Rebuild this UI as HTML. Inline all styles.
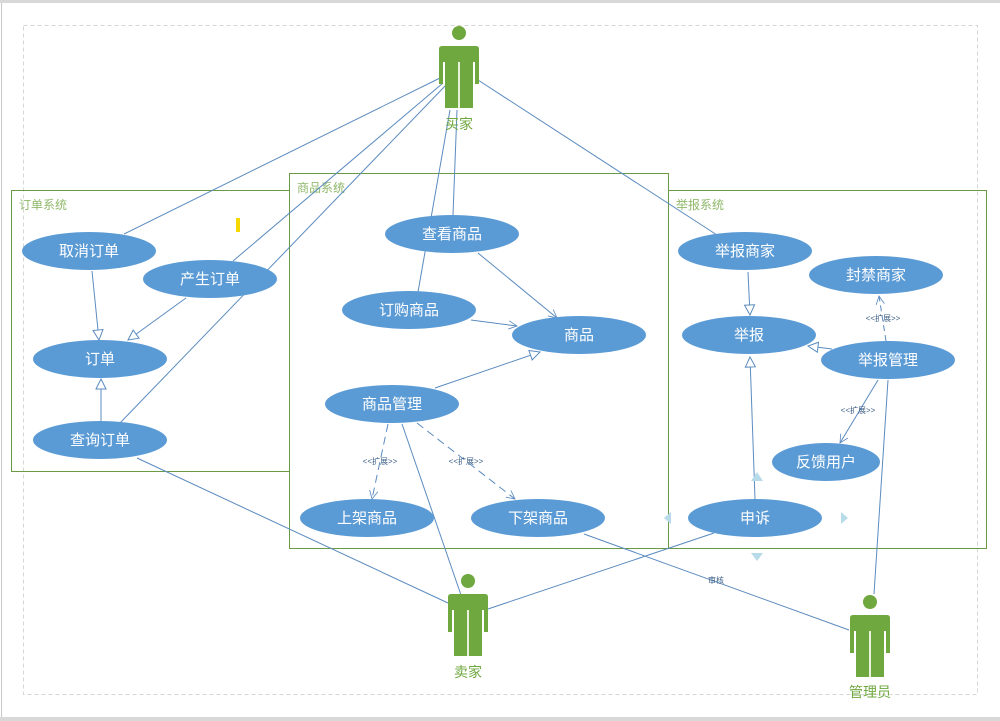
<!DOCTYPE html>
<html><head><meta charset="utf-8"><style>
html,body{margin:0;padding:0;background:#fff}
svg{display:block}
text{font-family:"Liberation Sans","Noto Sans CJK SC",sans-serif}
</style></head><body>
<svg width="1000" height="721" viewBox="0 0 1000 721" xmlns="http://www.w3.org/2000/svg">
<defs>
<marker id="tri" viewBox="0 0 12 12" refX="11" refY="6" markerWidth="12" markerHeight="12" markerUnits="userSpaceOnUse" orient="auto"><path d="M1,1 L11,6 L1,11 Z" fill="#fff" stroke="#5b8bbf" stroke-width="1"/></marker>
<marker id="open" viewBox="0 0 12 12" refX="11" refY="6" markerWidth="10" markerHeight="10" markerUnits="userSpaceOnUse" orient="auto"><path d="M1,1 L11,6 L1,11" fill="none" stroke="#5b8bbf" stroke-width="1"/></marker>
<g id="actor" fill="#6fa83f">
<circle cx="0" cy="-13" r="7"/>
<path d="M-17,0 H17 Q20,0 20,3 V38 H16 V16 H14 V62 H1 V16 H-1 V62 H-14 V16 H-16 V38 H-20 V3 Q-20,0 -17,0 Z"/>
<rect x="-0.5" y="16" width="1" height="46" fill="#cfe3bd"/>
</g>
</defs>
<rect x="0" y="0" width="1000" height="3" fill="#d8d8d8"/>
<rect x="0" y="717" width="1000" height="4" fill="#d8d8d8"/>
<line x1="1.5" y1="3" x2="1.5" y2="717" stroke="#c8c8c8"/>
<rect x="23.5" y="25.5" width="954" height="669" fill="none" stroke="#d6d6d6" stroke-dasharray="4,3"/>
<rect x="236" y="218" width="4" height="14" fill="#f5d800"/>

<g fill="none" stroke="#6b9a45" stroke-width="1">
<rect x="11.5" y="190.5" width="278" height="281"/>
<rect x="289.5" y="173.5" width="379" height="375"/>
<rect x="668.5" y="190.5" width="318" height="358"/>
</g>
<g font-size="12" fill="#8fb86a">
<text x="19" y="209">订单系统</text>
<text x="297" y="192">商品系统</text>
<text x="676" y="209">举报系统</text>
</g>

<g stroke="#5b8bbf" stroke-width="1" fill="none">
<line x1="440" y1="78" x2="124" y2="234"/>
<line x1="443" y1="83" x2="233" y2="261"/>
<line x1="447" y1="84" x2="120" y2="423"/>
<line x1="450" y1="110" x2="418" y2="292"/>
<line x1="457" y1="110" x2="453" y2="215"/>
<line x1="478" y1="80" x2="717" y2="235"/>
<line x1="92" y1="271" x2="99" y2="340" marker-end="url(#tri)"/>
<line x1="186" y1="298" x2="128" y2="340" marker-end="url(#tri)"/>
<line x1="101" y1="421" x2="101" y2="379" marker-end="url(#tri)"/>
<line x1="478" y1="253" x2="557" y2="318" marker-end="url(#open)"/>
<line x1="471" y1="320" x2="517" y2="326" marker-end="url(#open)"/>
<line x1="435" y1="388" x2="540" y2="352" marker-end="url(#tri)"/>
<line x1="388" y1="424" x2="372" y2="499" stroke-dasharray="8,5" marker-end="url(#open)"/>
<line x1="417" y1="423" x2="515" y2="499" stroke-dasharray="8,5" marker-end="url(#open)"/>
<line x1="137" y1="458" x2="448" y2="603"/>
<line x1="402" y1="424" x2="461" y2="595"/>
<line x1="714" y1="533" x2="488" y2="609"/>
<line x1="584" y1="534" x2="849" y2="630"/>
<line x1="888" y1="380" x2="874" y2="594"/>
<line x1="748" y1="272" x2="750" y2="315" marker-end="url(#tri)"/>
<line x1="832" y1="349" x2="808" y2="346" marker-end="url(#tri)"/>
<line x1="755" y1="499" x2="750" y2="357" marker-end="url(#tri)"/>
<line x1="886" y1="341" x2="879" y2="296" stroke-dasharray="6,4" marker-end="url(#open)"/>
<line x1="878" y1="380" x2="840" y2="443" marker-end="url(#open)"/>
</g>
<g font-size="8" fill="#3d5f86" text-anchor="middle">
<text x="380" y="464">&lt;&lt;扩展&gt;&gt;</text>
<text x="466" y="464">&lt;&lt;扩展&gt;&gt;</text>
<text x="883" y="321">&lt;&lt;扩展&gt;&gt;</text>
<text x="858" y="413">&lt;&lt;扩展&gt;&gt;</text>
<text x="716" y="583">审核</text>
</g>

<g fill="#5b9bd5">
<ellipse cx="89" cy="251" rx="67" ry="19"/>
<ellipse cx="210" cy="279" rx="67" ry="19"/>
<ellipse cx="100" cy="359" rx="67" ry="19"/>
<ellipse cx="100" cy="440" rx="67" ry="19"/>
<ellipse cx="452" cy="234" rx="67" ry="19"/>
<ellipse cx="409" cy="310" rx="67" ry="19"/>
<ellipse cx="579" cy="335" rx="67" ry="19"/>
<ellipse cx="392" cy="404" rx="67" ry="19"/>
<ellipse cx="367" cy="518" rx="67" ry="19"/>
<ellipse cx="538" cy="518" rx="67" ry="19"/>
<ellipse cx="745" cy="251" rx="67" ry="19"/>
<ellipse cx="876" cy="275" rx="67" ry="19"/>
<ellipse cx="749" cy="335" rx="67" ry="19"/>
<ellipse cx="888" cy="360" rx="67" ry="19"/>
<ellipse cx="826" cy="462" rx="54" ry="19"/>
<ellipse cx="755" cy="518" rx="67" ry="19"/>
</g>
<g font-size="15" fill="#fff" text-anchor="middle">
<text x="89" y="256">取消订单</text>
<text x="210" y="284">产生订单</text>
<text x="100" y="364">订单</text>
<text x="100" y="445">查询订单</text>
<text x="452" y="239">查看商品</text>
<text x="409" y="315">订购商品</text>
<text x="579" y="340">商品</text>
<text x="392" y="409">商品管理</text>
<text x="367" y="523">上架商品</text>
<text x="538" y="523">下架商品</text>
<text x="745" y="256">举报商家</text>
<text x="876" y="280">封禁商家</text>
<text x="749" y="340">举报</text>
<text x="888" y="365">举报管理</text>
<text x="826" y="467">反馈用户</text>
<text x="755" y="523">申诉</text>
</g>

<g fill="#b7dbe9">
<path d="M757,472 L763,481 L751,481 Z"/>
<path d="M751,553 L763,553 L757,561 Z"/>
<path d="M664,518 L671,512 L671,524 Z"/>
<path d="M841,512 L848,518 L841,524 Z"/>
</g>

<use href="#actor" x="459" y="46"/>
<use href="#actor" x="468" y="594"/>
<use href="#actor" x="870" y="615"/>
<g font-size="14" fill="#6fa83f" text-anchor="middle">
<text x="459" y="129">买家</text>
<text x="468" y="677">卖家</text>
<text x="870" y="697">管理员</text>
</g>
</svg>
</body></html>
